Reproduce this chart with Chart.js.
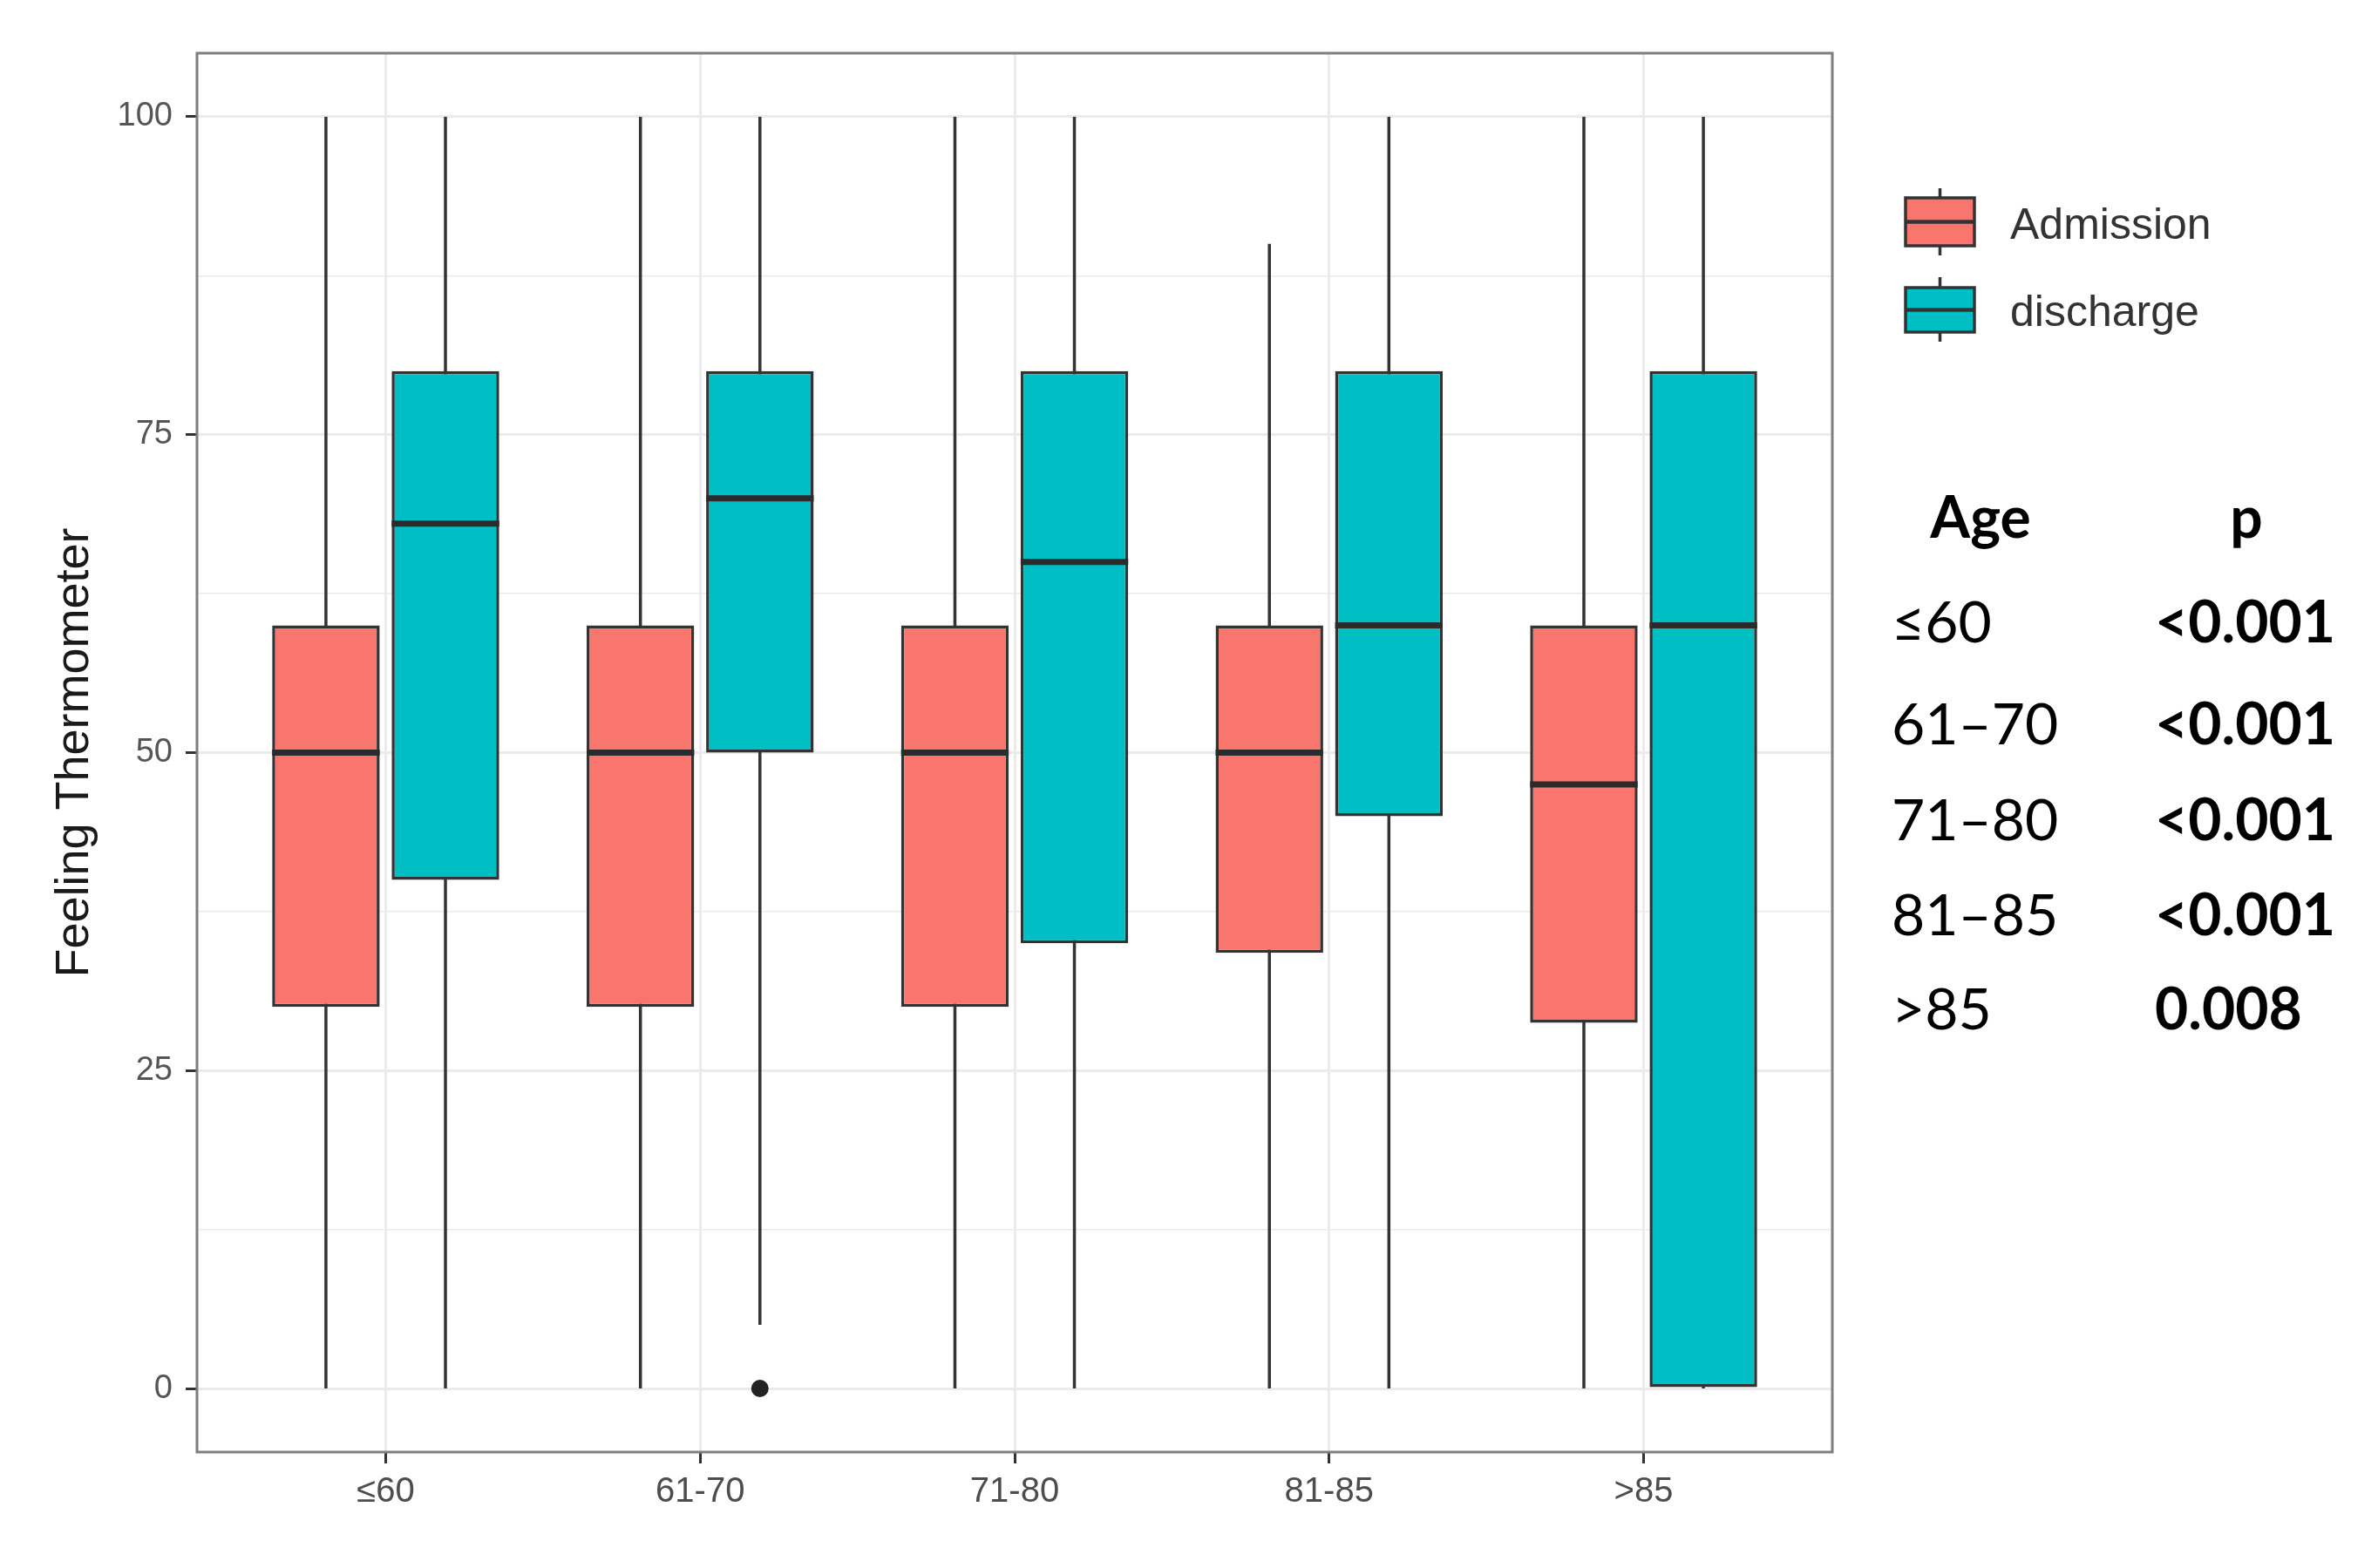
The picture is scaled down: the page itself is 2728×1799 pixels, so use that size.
<!DOCTYPE html>
<html><head><meta charset="utf-8">
<script src="https://cdn.jsdelivr.net/npm/chart.js@4.4.1/dist/chart.umd.min.js"></script>
<style>html,body{margin:0;padding:0;background:#fff;overflow:hidden}canvas{display:block}</style>
</head><body>
<canvas id="c" width="2728" height="1799" style="width:2728px;height:1799px"></canvas>
<script>
// ---- data ----
const categories = ['≤60', '61-70', '71-80', '81-85', '>85'];
const admissionMin = [0, 0, 0, 0, 0];
const admissionQ1 = [30, 30, 30, 34.25, 28.75];
const admissionMedian = [50, 50, 50, 50, 47.5];
const admissionQ3 = [60, 60, 60, 60, 60];
const admissionMax = [100, 100, 100, 90, 100];
const dischargeMin = [0, 5, 0, 0, 0];
const dischargeQ1 = [40, 50, 35, 45, 0];
const dischargeMedian = [68, 70, 65, 60, 60];
const dischargeQ3 = [80, 80, 80, 80, 80];
const dischargeMax = [100, 100, 100, 100, 100];
const admissionOutliers = [[], [], [], [], []];
const dischargeOutliers = [[], [0], [], [], []];
const yTickValues = [0, 25, 50, 75, 100];
const yMinorValues = [12.5, 37.5, 62.5, 87.5];
const seriesNames = ['Admission', 'discharge'];
const tableAges = ['≤60', '61–70', '71–80', '81–85', '>85'];
const tablePValues = ['<0.001', '<0.001', '<0.001', '<0.001', '0.008'];
const yTitle = 'Feeling Thermometer';

const colors = ['#F8766D', '#00BFC4'];
const series = [
  {min: admissionMin, q1: admissionQ1, med: admissionMedian, q3: admissionQ3, max: admissionMax, out: admissionOutliers},
  {min: dischargeMin, q1: dischargeQ1, med: dischargeMedian, q3: dischargeQ3, max: dischargeMax, out: dischargeOutliers}
];
const LINE = '#333333';

Chart.defaults.font.family = "'Liberation Sans', Arial, sans-serif";

const boxPlugin = {
  id: 'boxplot',
  beforeDatasetsDraw(chart) {
    const ctx = chart.ctx, y = chart.scales.y;
    ctx.save();
    ctx.strokeStyle = LINE; ctx.lineWidth = 3.5;
    series.forEach((s, d) => {
      chart.getDatasetMeta(d).data.forEach((bar, i) => {
        ctx.beginPath();
        ctx.moveTo(bar.x, y.getPixelForValue(s.min[i]));
        ctx.lineTo(bar.x, y.getPixelForValue(s.max[i]));
        ctx.stroke();
      });
    });
    ctx.restore();
  },
  afterDatasetsDraw(chart) {
    const ctx = chart.ctx, y = chart.scales.y, a = chart.chartArea;
    ctx.save();
    series.forEach((s, d) => {
      chart.getDatasetMeta(d).data.forEach((bar, i) => {
        const py = y.getPixelForValue(s.med[i]);
        ctx.strokeStyle = '#2b2b2b'; ctx.lineWidth = 7;
        ctx.beginPath();
        ctx.moveTo(bar.x - bar.width / 2, py);
        ctx.lineTo(bar.x + bar.width / 2, py);
        ctx.stroke();
        s.out[i].forEach(v => {
          ctx.fillStyle = '#222';
          ctx.beginPath();
          ctx.arc(bar.x, y.getPixelForValue(v), 10, 0, Math.PI * 2);
          ctx.fill();
        });
      });
    });
    ctx.strokeStyle = '#7f7f7f'; ctx.lineWidth = 3;
    ctx.strokeRect(a.left, a.top, a.right - a.left, a.bottom - a.top);
    ctx.restore();
  },
  afterDraw(chart) {
    const ctx = chart.ctx;
    ctx.save();
    // legend
    const keys = [{top: 227, bot: 282, wt: 216, wb: 293}, {top: 330, bot: 381, wt: 318, wb: 392}];
    const kx0 = 2186, kx1 = 2265, kc = (kx0 + kx1) / 2;
    keys.forEach((k, d) => {
      ctx.strokeStyle = LINE; ctx.lineWidth = 3.5;
      ctx.beginPath(); ctx.moveTo(kc, k.wt); ctx.lineTo(kc, k.wb); ctx.stroke();
      ctx.fillStyle = colors[d];
      ctx.fillRect(kx0, k.top, kx1 - kx0, k.bot - k.top);
      ctx.strokeRect(kx0, k.top, kx1 - kx0, k.bot - k.top);
      ctx.lineWidth = 4.5;
      const m = (k.top + k.bot) / 2;
      ctx.beginPath(); ctx.moveTo(kx0, m); ctx.lineTo(kx1, m); ctx.stroke();
    });
    ctx.fillStyle = '#333';
    ctx.font = "50px 'Liberation Sans', Arial, sans-serif";
    ctx.textBaseline = 'alphabetic'; ctx.textAlign = 'left';
    ctx.fillText(seriesNames[0], 2306, 274);
    ctx.fillText(seriesNames[1], 2306, 374);
    // table
    ctx.fillStyle = '#000';
    ctx.font = "bold 66px Lato, 'Open Sans', sans-serif";
    ctx.textAlign = 'center';
    ctx.fillText('Age', 2272, 617);
    ctx.fillText('p', 2577, 617);
    ctx.textAlign = 'left';
    const rowY = [737, 854, 964, 1073, 1181];
    tableAges.forEach((t, i) => {
      ctx.font = "66px Lato, 'Open Sans', sans-serif";
      ctx.fillText(t, 2170, rowY[i]);
      ctx.font = "bold 66px Lato, 'Open Sans', sans-serif";
      ctx.fillText(tablePValues[i], 2472, rowY[i]);
    });
    ctx.restore();
  }
};

const isMajor = v => yTickValues.includes(v);

new Chart(document.getElementById('c'), {
  type: 'bar',
  data: {
    labels: categories,
    datasets: series.map((s, d) => ({
      label: seriesNames[d],
      data: categories.map((c, i) => [s.q1[i], s.q3[i]]),
      backgroundColor: colors[d],
      borderColor: LINE,
      borderWidth: 3.5,
      borderSkipped: false,
      categoryPercentage: 0.76,
      barPercentage: 0.9
    }))
  },
  options: {
    responsive: false,
    devicePixelRatio: 1,
    animation: false,
    events: [],
    layout: {padding: {left: 0, top: 61, right: 626, bottom: 0}},
    plugins: {legend: {display: false}, tooltip: {enabled: false}},
    scales: {
      x: {
        offset: true,
        afterBuildTicks(s) { s._startValue = -0.6; s._valueRange = 5.2; },
        afterFit(s) { s.height = 133; },
        border: {display: false},
        grid: {offset: false, color: '#ebebeb', lineWidth: 3, tickLength: 13, tickColor: LINE, tickWidth: 3},
        ticks: {color: '#4d4d4d', font: {size: 40}, padding: 9, maxRotation: 0, autoSkip: false}
      },
      y: {
        min: -5, max: 105,
        afterBuildTicks(s) { s.ticks = yTickValues.concat(yMinorValues).sort((p, q) => p - q).map(v => ({value: v})); },
        afterFit(s) { s.width = 226; },
        border: {display: false},
        grid: {
          color: '#ebebeb',
          lineWidth: c => isMajor(c.tick.value) ? 3 : 1.5,
          tickLength: 13,
          tickColor: c => isMajor(c.tick.value) ? LINE : 'rgba(0,0,0,0)',
          tickWidth: 3
        },
        ticks: {
          color: '#555555', font: {size: 38}, padding: 15, autoSkip: false,
          callback: v => isMajor(v) ? String(v) : ''
        },
        title: {display: true, text: yTitle, color: '#1a1a1a', font: {size: 54}, padding: {top: 54, bottom: 0}}
      }
    }
  },
  plugins: [boxPlugin]
});
</script>
</body></html>
